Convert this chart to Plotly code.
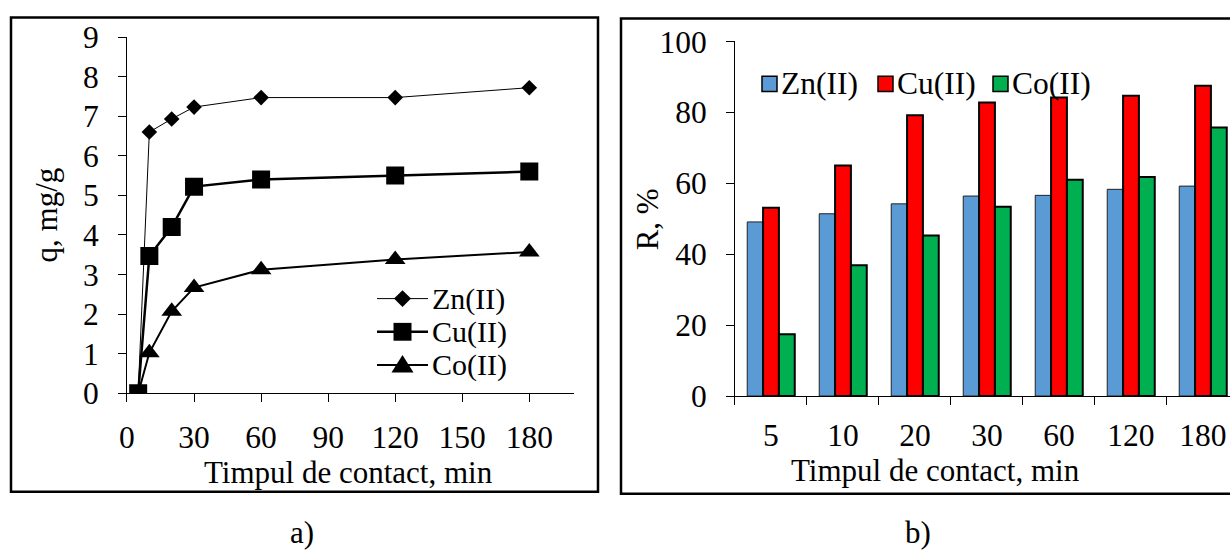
import plotly.graph_objects as go

# Contact time (min) and adsorption capacity q (mg/g)
time_min = [5, 10, 20, 30, 60, 120, 180]
q_zn = [0.0, 6.60, 6.93, 7.23, 7.47, 7.47, 7.72]
q_cu = [0.0, 3.47, 4.20, 5.22, 5.40, 5.50, 5.60]
q_co = [0.0, 1.02, 2.07, 2.67, 3.12, 3.38, 3.57]

# Removal efficiency R (%) per contact time
time_labels = ["5", "10", "20", "30", "60", "120", "180"]
r_zn = [49.1, 51.4, 54.2, 56.4, 56.6, 58.3, 59.2]
r_cu = [53.1, 65.0, 79.2, 82.8, 84.2, 84.7, 87.5]
r_co = [17.4, 36.9, 45.3, 53.4, 61.0, 61.8, 75.7]

series = ["Zn(II)", "Cu(II)", "Co(II)"]
bar_colors = ["#5B9BD5", "#FF0000", "#00B050"]

W, H = 1230, 550
FONT = "Liberation Serif"

# Layout grid: positions below are given in page pixels and mapped to
# paper fractions through this origin / scale.
OX, SX = 7.0, 0.9935
OY, SY = 15.8, 0.945


def px(x):
    return min(1.0, max(0.0, (x - OX) / SX / W))


def py(y):
    return min(1.0, max(0.0, 1 - (y - OY) / SY / H))


fig = go.Figure()

# a) kinetic curves
line_styles = [
    dict(width=1, symbol="diamond", size=12),
    dict(width=2.5, symbol="square", size=18),
    dict(width=2, symbol="triangle-up", size=18),
]
for name, q, st in zip(series, [q_zn, q_cu, q_co], line_styles):
    fig.add_trace(go.Scatter(
        x=time_min, y=q, name=name, mode="lines+markers",
        line=dict(color="black", width=st["width"]),
        marker=dict(symbol=st["symbol"], size=st["size"], color="black"),
        xaxis="x", yaxis="y", showlegend=False))

# b) removal efficiency bars
bar_edges = [dict(color="#222222", width=1),
             dict(color="black", width=2),
             dict(color="black", width=2)]
for name, r, c, edge in zip(series, [r_zn, r_cu, r_co], bar_colors, bar_edges):
    fig.add_trace(go.Bar(
        x=time_labels, y=r, name=name,
        marker=dict(color=c, line=edge),
        xaxis="x2", yaxis="y2", showlegend=False))

tick_font = dict(family=FONT, size=31.5, color="black")
axis_common = dict(
    showgrid=False, zeroline=False, showline=True, linecolor="black",
    linewidth=1, ticks="outside", ticklen=8, tickcolor="black",
    tickwidth=1, tickfont=tick_font, fixedrange=True,
)

fig.update_layout(
    width=W, height=H,
    margin=dict(l=0, r=0, t=0, b=0),
    paper_bgcolor="white", plot_bgcolor="white",
    font=dict(family=FONT, color="black"),
    barmode="group", bargap=0.34, bargroupgap=0,
    showlegend=False,
    xaxis=dict(domain=[px(126), px(573)], range=[0, 200],
               tick0=0, dtick=30, anchor="y", ticklabelstandoff=8,
               **axis_common),
    yaxis=dict(domain=[py(395.5), py(36)], range=[0, 9],
               tick0=0, dtick=1, anchor="x", ticklabelstandoff=13,
               **axis_common),
    xaxis2=dict(domain=[px(734), 1.0], type="category",
                range=[-0.5, 6.375], tickson="boundaries",
                anchor="y2", ticklabelstandoff=11, **axis_common),
    yaxis2=dict(domain=[py(398.3), py(40.5)], range=[0, 100],
                tick0=0, dtick=20, anchor="x2", ticklabelstandoff=13,
                **axis_common),
)

# Panel frames
fig.add_shape(type="rect", xref="paper", yref="paper",
              x0=px(10), x1=px(597), y0=py(495), y1=0.999,
              line=dict(color="black", width=2.5))
fig.add_shape(type="rect", xref="paper", yref="paper",
              x0=px(620), x1=1.02, y0=py(497), y1=0.997,
              line=dict(color="black", width=2.5))


def label(text, x, y, size=31, xanchor="center", angle=0):
    fig.add_annotation(xref="paper", yref="paper", showarrow=False,
                       x=px(x), y=py(y), xanchor=xanchor, yanchor="middle",
                       text=text, textangle=angle,
                       font=dict(family=FONT, size=size, color="black"))


# Axis titles and panel captions
label("Timpul de contact, min", 348, 475)
label("Timpul de contact, min", 935, 473)
label("q, mg/g", 45, 215, angle=-90)
label("R, %", 646, 220, angle=-90)
label("a)", 301, 536)
label("b)", 917, 536)


def marker_path(symbol, cx, cy, s):
    if symbol == "diamond":
        pts = [(cx - s, cy), (cx, cy - s), (cx + s, cy), (cx, cy + s)]
    elif symbol == "square":
        pts = [(cx - s, cy - s), (cx + s, cy - s), (cx + s, cy + s),
               (cx - s, cy + s)]
    else:
        pts = [(cx - s * 1.1, cy + s * 0.75), (cx, cy - s),
               (cx + s * 1.1, cy + s * 0.75)]
    return "M" + " L".join(f"{px(a)},{py(b)}" for a, b in pts) + " Z"


# Legend for panel a): line sample with marker, then the series name
legend_rows = [300, 333.5, 367]
marker_half = [8.5, 9, 10]
for name, st, yrow, h in zip(series, line_styles, legend_rows, marker_half):
    fig.add_shape(type="line", xref="paper", yref="paper",
                  x0=px(376), x1=px(427), y0=py(yrow), y1=py(yrow),
                  line=dict(color="black", width=st["width"]))
    fig.add_shape(type="path", xref="paper", yref="paper",
                  path=marker_path(st["symbol"], 401.5, yrow, h),
                  fillcolor="black", line=dict(color="black", width=0))
    label(name, 429, yrow, size=30, xanchor="left")

# Legend for panel b): colour swatch, then the series name
swatch_x = [761, 877, 992]
for name, c, edge, sx in zip(series, bar_colors, bar_edges, swatch_x):
    fig.add_shape(type="rect", xref="paper", yref="paper",
                  x0=px(sx), x1=px(sx + 15), y0=py(91), y1=py(75.5),
                  fillcolor=c, line=dict(color="black", width=1.5))
    label(name, sx + 17, 83, size=31.5, xanchor="left")

fig.write_html("out.html")
